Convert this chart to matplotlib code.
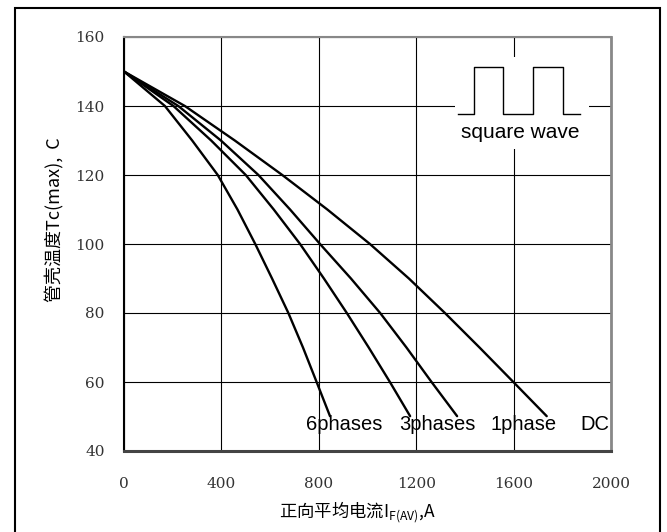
import matplotlib
matplotlib.use("Agg")
import matplotlib.pyplot as plt
from matplotlib.patches import Rectangle

plt.rcParams['font.family'] = ['Noto Sans CJK SC', 'DejaVu Sans']
plt.rcParams['mathtext.default'] = 'regular'

# 曲线数据
x_6ph = [0, 168, 280, 385, 466, 539, 608, 675, 735, 791, 846]
y_6ph = [150, 140, 130, 120, 110, 100, 90, 80, 70, 60, 50.1]
x_3ph = [0, 203, 358, 500, 615, 723, 821, 915, 1005, 1092, 1175]
y_3ph = [150, 140, 130, 120, 110, 100, 90, 80, 70, 60, 50.1]
x_1ph = [0, 223, 398, 552, 682, 805, 932, 1052, 1160, 1263, 1368]
y_1ph = [150, 140, 130, 120, 110, 100, 90, 80, 70, 60, 50.1]
x_dc = [0, 250, 455, 650, 835, 1010, 1170, 1318, 1460, 1599, 1736]
y_dc = [150, 140, 130, 120, 110, 100, 90, 80, 70, 60, 50.1]

labels = ["6phases", "3phases", "1phase", "DC"]
label_x = [746, 1130, 1505, 1876]

xticks = [0, 400, 800, 1200, 1600, 2000]
yticks = [40, 60, 80, 100, 120, 140, 160]

# 方波示意
sq_x = [1372, 1437, 1437, 1556, 1556, 1680, 1680, 1803, 1803, 1873]
sq_y = [137.6, 137.6, 151.2, 151.2, 137.6, 137.6, 151.2, 151.2, 137.6, 137.6]

fig = plt.figure(figsize=(6.67, 5.32), dpi=100)
fig.patches.append(Rectangle((15 / 667, -0.01), (660 - 15) / 667, 1 - 8 / 532 + 0.01,
                             transform=fig.transFigure, fill=False,
                             edgecolor='black', linewidth=1.5))
ax = fig.add_axes([124 / 667, 1 - 451 / 532, 487 / 667, 414 / 532])

ax.set_xlim(0, 2000)
ax.set_ylim(40, 160)
ax.set_xticks(xticks)
ax.set_yticks(yticks)
ax.grid(True, color='black', linewidth=0.8)
ax.set_axisbelow(True)
ax.tick_params(length=0, labelsize=11, pad=14)
ax.tick_params(axis='x', pad=19)
for lab in ax.get_xticklabels() + ax.get_yticklabels():
    lab.set_fontfamily('DejaVu Serif')
    lab.set_color('#333333')

ax.spines['left'].set_color('black')
ax.spines['left'].set_linewidth(1.5)
ax.spines['top'].set_color('#888888')
ax.spines['top'].set_linewidth(1.5)
ax.spines['right'].set_color('#888888')
ax.spines['right'].set_linewidth(2)
ax.spines['bottom'].set_color('#444444')
ax.spines['bottom'].set_linewidth(2.2)

for xs, ys in [(x_6ph, y_6ph), (x_3ph, y_3ph), (x_1ph, y_1ph), (x_dc, y_dc)]:
    ax.plot(xs, ys, color='black', linewidth=1.7, solid_capstyle='round',
            solid_joinstyle='round')

for t, lx in zip(labels, label_x):
    ax.text(lx, 47.6, t, fontsize=14.5, family=['Liberation Sans'],
            ha='left', va='center', color='black')

ax.add_patch(Rectangle((1359, 127.4), 1910 - 1359, 154.3 - 127.4,
                       facecolor='white', edgecolor='none', zorder=2))
ax.plot(sq_x, sq_y, color='black', linewidth=1.0, zorder=3)
ax.text(1626, 132.3, "square wave", fontsize=15, family=['Liberation Sans'],
        ha='center', va='center', zorder=3)

ax.set_xlabel("正向平均电流I$_{F(AV)}$,A", fontsize=12.5)
ax.xaxis.set_label_coords(0.48, -0.118)
ax.set_ylabel("管壳温度Tc(max),  C", fontsize=13)
ax.yaxis.set_label_coords(-0.123, 0.56)

fig.savefig("out.png", dpi=100)
